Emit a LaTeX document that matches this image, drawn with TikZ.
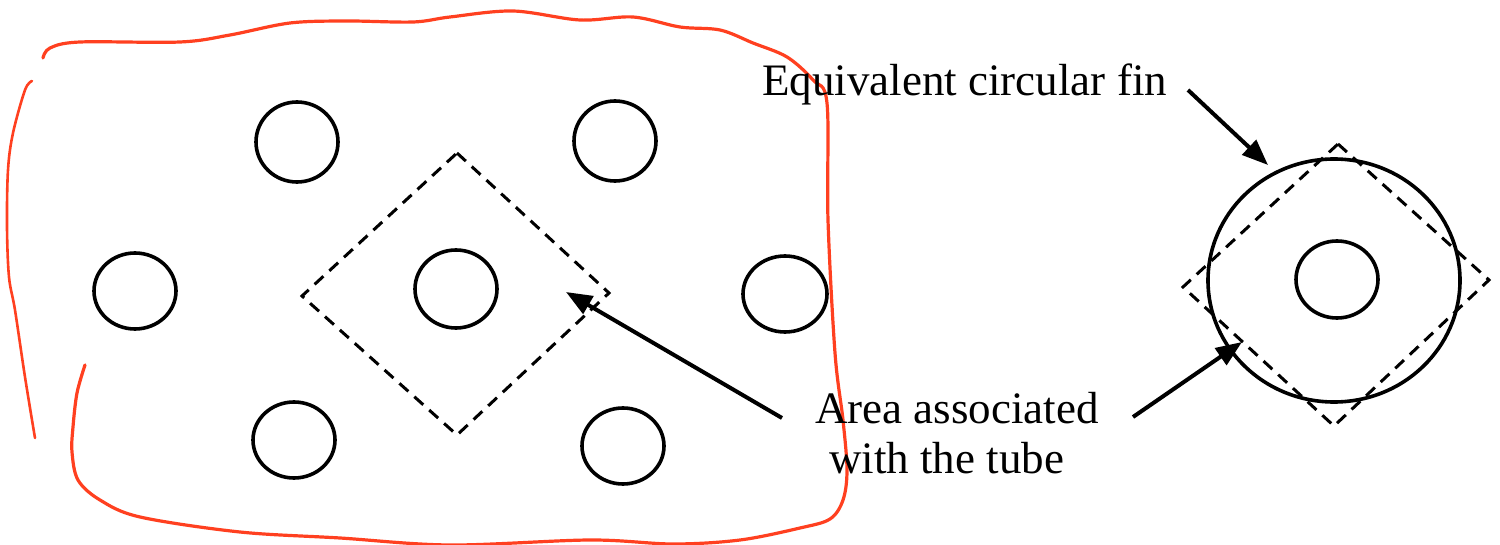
\documentclass[tikz,border=0pt]{standalone}
\usepackage{fontspec}
\setmainfont{Liberation Serif}
\usetikzlibrary{arrows.meta}
\definecolor{sketchred}{HTML}{FF4020}
\tikzset{
  tube/.style={draw=black,line width=3.6pt},
  cell/.style={draw=black,line width=3pt,dash pattern=on 12pt off 8pt},
  pointer/.style={draw=black,line width=4pt,-{Triangle[length=26pt,width=20pt]}},
  freehand/.style={draw=sketchred,line width=3.2pt,line cap=round},
  label/.style={inner sep=0pt,anchor=base west,font=\fontsize{45}{54}\selectfont}
}
\begin{document}
\begin{tikzpicture}[x=1pt,y=-1pt]
\useasboundingbox (0,0) rectangle (1500,545);
% freehand outline
\draw[freehand] plot[smooth,tension=0.55] coordinates {
 (85,365) (77,393) (73,427) (72,452) (78,480) (100,500) (140,517) (240,532) (340,538) (450,545) (590,540) (673,544) (740,540) (800,528) (830,519) (843,500) (847,470) (843,420) (835,353) (828,220) (827,103) (813,80) (787,57) (753,43) (720,30) (680,27) (633,17) (580,20) (513,11) (450,17) (413,22) (347,21) (290,23) (230,35) (180,42) (80,42) (50,48) (43,58)};
\draw[freehand,line width=2.6pt] plot[smooth,tension=0.55] coordinates {
 (32,81) (25,90) (13,133) (8,170) (7,227) (9,277) (15,310) (25,377) (35,438)};
% tubes
\draw[tube] (297,142) ellipse (41 and 40);
\draw[tube] (615,141) ellipse (41 and 40);
\draw[tube] (135,291) ellipse (41 and 38);
\draw[tube] (456,289) ellipse (41 and 39);
\draw[tube] (785,294) ellipse (42 and 38);
\draw[tube] (294,440) ellipse (41 and 38);
\draw[tube] (623,446) ellipse (41 and 38);
% left cell
\draw[cell] (457,153) -- (609,293) -- (457,435) -- (302,296) -- cycle;
% right equivalent fin
\draw[tube] (1334,280.5) ellipse (126 and 121.5);
\draw[tube] (1337,279.5) ellipse (41 and 38.5);
\draw[cell] (1338,144) -- (1489,280) -- (1334,426) -- (1183,287) -- cycle;
% labels
\node[label] (eq) at (762,96) {Equivalent circular fin};
\node[label] (area) at (815,424) {Area associated};
\node[label] (with) at (829,473) {with the tube};
% pointers
\coordinate (a1s) at (782,418);
\coordinate (a1e) at (566,292);
\coordinate (a2s) at (1188,90);
\coordinate (a2e) at (1268,165);
\coordinate (a3s) at (1133,417);
\coordinate (a3e) at (1242,342);
\draw[pointer] (a1s) -- (a1e);
\draw[pointer] (a2s) -- (a2e);
\draw[pointer] (a3s) -- (a3e);
\end{tikzpicture}
\end{document}
